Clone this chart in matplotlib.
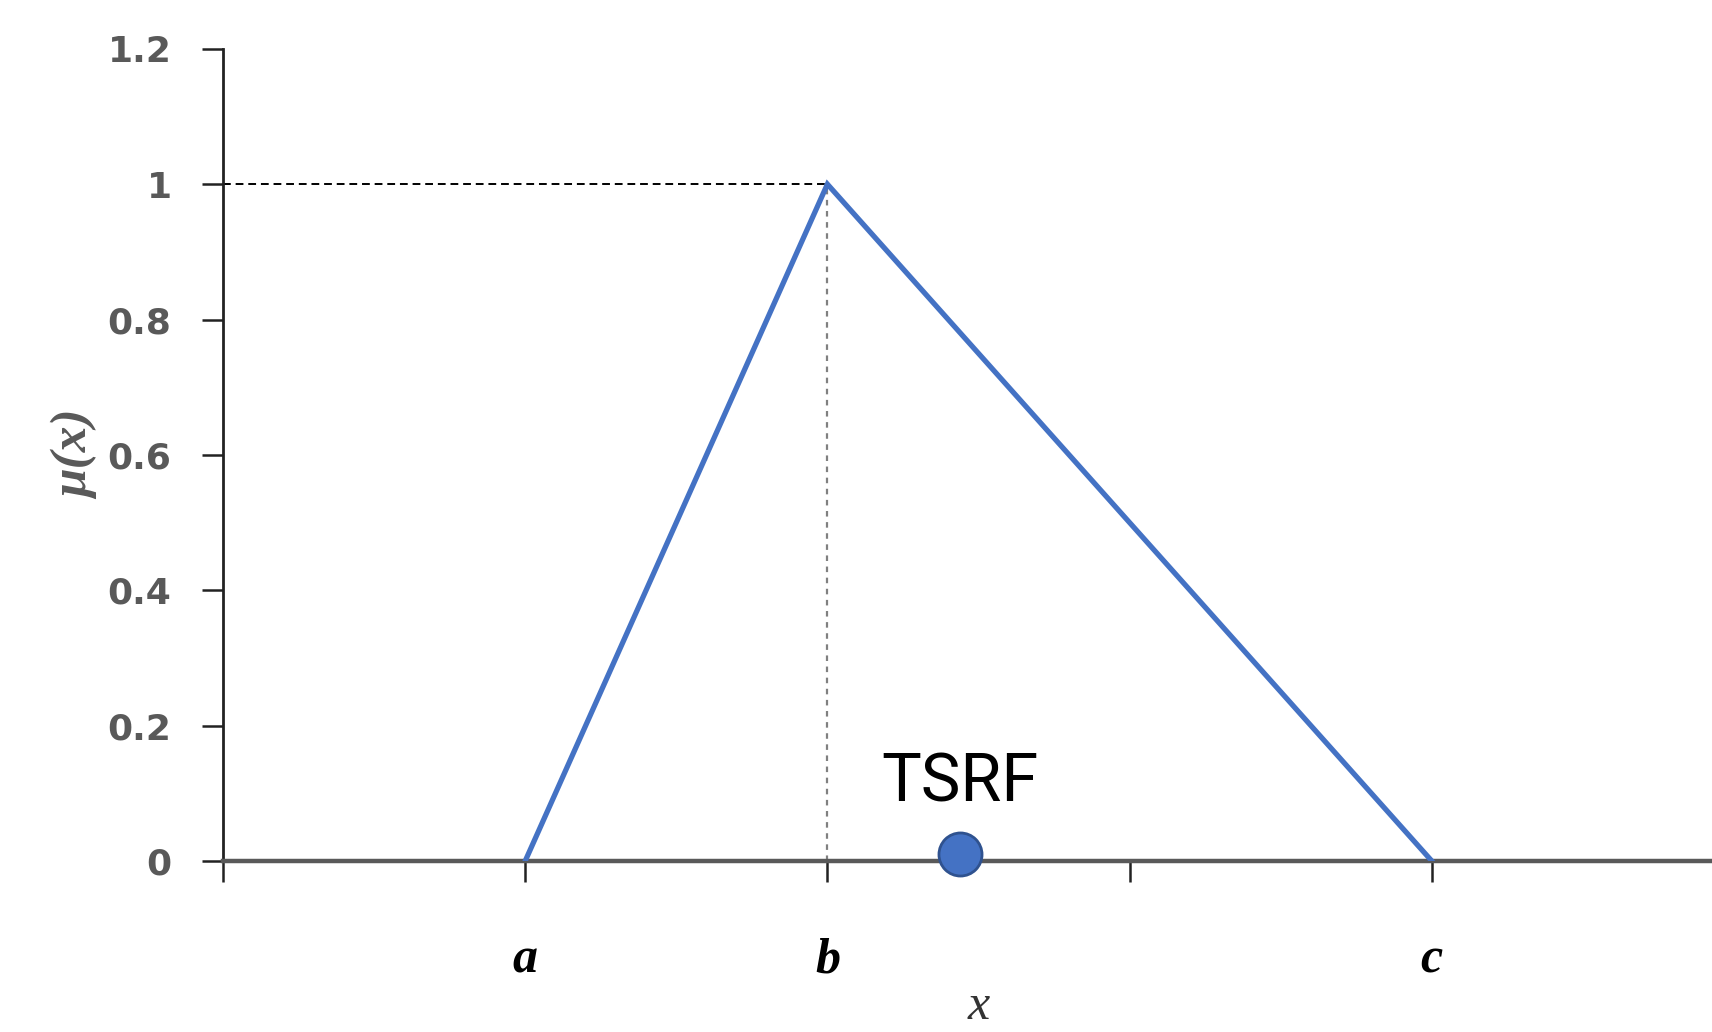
import matplotlib.pyplot as plt

# triangular membership function
tri_x = [1, 2, 4]
tri_y = [0, 1, 0]
peak = (2, 1)

# TSRF point
tsrf_x = 2.44
tsrf_y = 0.011
tsrf_label = "TSRF"

x_ticks = [0, 1, 2, 3, 4]
x_tick_labels = ["", "a", "b", "", "c"]
y_ticks = [0, 0.2, 0.4, 0.6, 0.8, 1.0, 1.2]

blue = "#4472C4"
gray = "#595959"

fig = plt.figure(figsize=(17.12, 10.32), dpi=100)
ax = fig.add_axes([223 / 1712, 0.1657, (1734 - 223) / 1712, 0.787])

ax.plot(tri_x, tri_y, color=blue, linewidth=3.8, solid_joinstyle="miter", zorder=3)
ax.plot([0, peak[0]], [peak[1], peak[1]], color="black", linewidth=1.4,
        linestyle=(0, (4, 2.5)), zorder=2)
ax.plot([peak[0], peak[0]], [0, peak[1]], color="#808080", linewidth=1.6,
        linestyle=(0, (2.5, 2.5)), zorder=2)

ax.plot([tsrf_x], [tsrf_y], marker="o", markersize=31, color=blue,
        markeredgecolor="#2F528F", markeredgewidth=2, zorder=4, clip_on=False)
ax.text(tsrf_x, 0.115, tsrf_label, fontsize=48, family="Roboto",
        ha="center", va="center", color="black")

ax.set_xlim(0, 5)
ax.set_ylim(0, 1.2)

ax.set_xticks(x_ticks)
ax.set_xticklabels(x_tick_labels, fontsize=36, family="Liberation Serif",
                   fontweight="bold", fontstyle="italic")
ax.set_yticks(y_ticks)
ax.set_yticklabels([f"{v:g}" for v in y_ticks], fontsize=26,
                   fontweight="bold", color=gray)

ax.tick_params(axis="y", length=15, width=1.8, pad=22, color="#222222")
ax.tick_params(axis="x", length=15, width=1.8, pad=40, color="#222222")

ax.set_xlabel("x", fontsize=36, family="Liberation Serif", fontstyle="italic",
              labelpad=0, color="#333333")
ax.set_ylabel("μ(x)", fontsize=37, family="Liberation Serif",
              fontstyle="italic", fontweight="bold", color=gray, labelpad=6)

for side in ["top", "right"]:
    ax.spines[side].set_visible(False)
ax.spines["left"].set_linewidth(2)
ax.spines["left"].set_color("#222222")
ax.spines["bottom"].set_linewidth(3.2)
ax.spines["bottom"].set_color(gray)

fig.savefig("out.png", dpi=100)
